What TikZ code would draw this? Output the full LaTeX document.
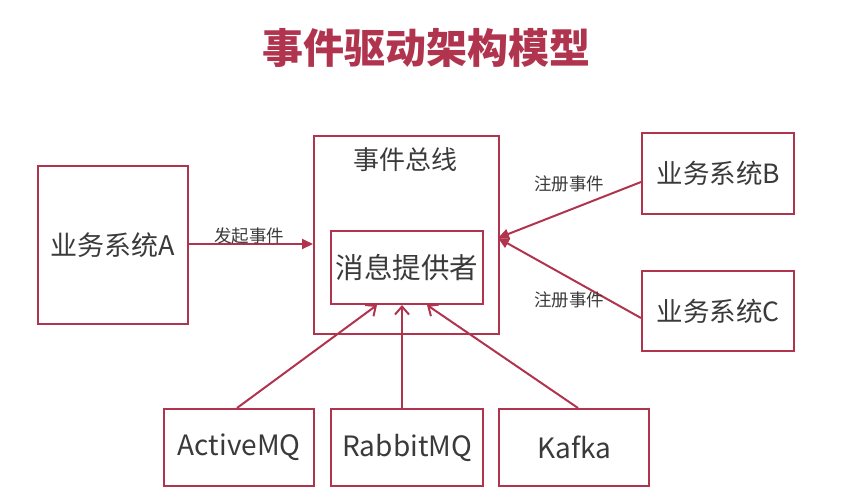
\documentclass[tikz,border=0pt]{standalone}
\usepackage{fontspec}
\setmainfont{Noto Sans CJK SC}
\usetikzlibrary{arrows.meta}
\definecolor{crim}{HTML}{B1344F}
\definecolor{txt}{HTML}{3A3A3A}
\begin{document}
\begin{tikzpicture}[x=1pt,y=-1pt,
  box/.style={draw=crim,line width=2.4pt,text=txt,inner sep=0pt,anchor=north west},
  conn/.style={draw=crim,line width=2pt},
  tipf/.style={-{Triangle[length=11pt,width=10pt]}},
  tipo/.style={-{Straight Barb[length=8pt,width=14pt,line width=2pt]}},
  lab/.style={text=txt,font=\fontsize{17.5}{20}\selectfont,inner sep=0pt}]
\useasboundingbox (0,0) rectangle (861,499);
\node[text=crim,font=\fontsize{41}{45}\selectfont\bfseries] (title) at (426,48) {事件驱动架构模型};
% boxes
\node[box,minimum width=150pt,minimum height=158pt,font=\fontsize{27}{30}\selectfont] (A) at (37,165) {业务系统A};
\node[box,minimum width=185pt,minimum height=198pt] (bus) at (313,135) {};
\node[text=txt,font=\fontsize{26}{29}\selectfont] (bust) at (405,160) {事件总线};
\node[box,minimum width=152pt,minimum height=73pt,font=\fontsize{28.5}{31}\selectfont] (mp) at (330,230) {消息提供者};
\node[box,minimum width=152pt,minimum height=81pt,font=\fontsize{26.5}{29}\selectfont] (B) at (641,132) {业务系统B};
\node[box,minimum width=152pt,minimum height=80pt,font=\fontsize{26.5}{29}\selectfont] (C) at (641,270) {业务系统C};
\node[box,minimum width=150pt,minimum height=77pt,font=\fontsize{28}{31}\selectfont] (amq) at (163,408) {ActiveMQ};
\node[box,minimum width=152pt,minimum height=77pt,font=\fontsize{28}{31}\selectfont] (rmq) at (330,408) {RabbitMQ};
\node[box,minimum width=150pt,minimum height=77pt,font=\fontsize{28}{31}\selectfont] (kaf) at (498,408) {Kafka};
% connector points
\coordinate (hub) at (498,238);
\coordinate (aout) at (187,244);
\coordinate (ain) at (313,244);
\coordinate (bout) at (641,182);
\coordinate (cout) at (641,318);
\coordinate (t1) at (237,408);
\coordinate (h1) at (377,305);
\coordinate (t2) at (402,408);
\coordinate (h2) at (402,305);
\coordinate (t3) at (578,408);
\coordinate (h3) at (427,305);
\draw[conn,tipf] (aout) -- (ain);
\draw[conn,tipf] (bout) -- (hub);
\draw[conn,tipf] (cout) -- (hub);
\draw[conn,tipo] (t1) -- (h1);
\draw[conn,tipo] (t2) -- (h2);
\draw[conn,tipo] (t3) -- (h3);
\node[lab] (l1) at (249,236) {发起事件};
\node[lab] (l2) at (569,184) {注册事件};
\node[lab] (l3) at (569,300) {注册事件};
\end{tikzpicture}
\end{document}
